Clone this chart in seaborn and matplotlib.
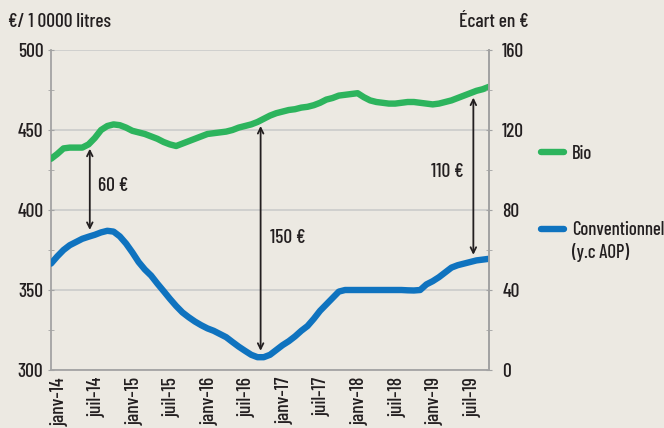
import numpy as np
import pandas as pd
import seaborn as sns
import matplotlib.pyplot as plt
import matplotlib.transforms as mtransforms
from matplotlib.lines import Line2D

### Data (prix mensuels, janv-14 -> nov-19)
mois = pd.date_range("2014-01-01", periods=71, freq="MS")

bio = [432, 435, 438.5, 439, 439, 439, 441, 445, 450, 452.5, 453.5, 453,
       451.5, 449.5, 448.5, 447.5, 446, 444.5, 442.5, 441, 440, 441.5, 443, 444.5,
       446, 447.5, 448, 448.5, 449, 450, 451.5, 452.5, 453.5, 455, 457, 459,
       460.5, 461.5, 462.5, 463, 464, 464.5, 465.5, 467, 469, 470, 471.5, 472,
       472.5, 473, 470.5, 468.5, 467.5, 467, 466.5, 466.5, 467, 467.5, 467.5, 467,
       466.5, 466, 466.5, 467.5, 468.5, 470, 471.5, 473, 474.5, 475.5, 477]

conventionnel = [366.5, 371, 375, 378, 380, 382, 383.3, 384.5, 386, 387, 386.5, 383.5,
                 379, 373.5, 367.5, 362.8, 359, 354, 349.3, 344.5, 340, 336, 333, 330.3,
                 328, 326, 324.5, 322.5, 320.5, 317.5, 314.6, 312, 309.5, 308, 308, 309.5,
                 312.5, 315.5, 318, 321, 324.5, 327.5, 332, 337, 341, 345, 349, 350,
                 350, 350, 350, 350, 350, 350, 350, 350, 350, 349.8, 349.7, 350,
                 353.5, 355.5, 358, 361, 364, 365.5, 366.5, 367.5, 368.5, 369, 369.5]

series_names = ["Bio", "Conventionnel (y.c AOP)"]
tick_labels = ["janv-14", "juil-14", "janv-15", "juil-15", "janv-16", "juil-16",
               "janv-17", "juil-17", "janv-18", "juil-18", "janv-19", "juil-19"]

# ecarts annotes : (indice du mois, texte)
ecarts = [(6.2, "60 €"), (33.5, "150 €"), (67.5, "110 €")]

df = pd.DataFrame({
    "idx": list(range(len(mois))) * 2,
    "prix": bio + conventionnel,
    "serie": [series_names[0]] * len(bio) + [series_names[1]] * len(conventionnel),
})

bg = "#ECE9E2"
green = "#2DB45D"
blue = "#0F73BF"
txt = "#231F20"
grid_c = "#CBCBCB"
spine_c = "#A3A3A3"
fs = 14

sns.set_style("white")
plt.rcParams["font.family"] = ["Barlow Condensed", "DejaVu Sans"]
plt.rcParams["font.weight"] = 500

fig = plt.figure(figsize=(6.64, 4.28), dpi=100, facecolor=bg)
ax = fig.add_axes([51 / 664, 1 - 370 / 428, 438 / 664, 320 / 428])
ax.set_facecolor(bg)

sns.lineplot(data=df, x="idx", y="prix", hue="serie", palette=[green, blue],
             linewidth=4.6, ax=ax, legend=False)
for ln in ax.get_lines():
    ln.set_solid_capstyle("round")
    ln.set_solid_joinstyle("round")
    ln.set_zorder(3)

ax.set_xlim(0, len(mois) - 1)
ax.set_ylim(300, 500)
ax.set_xlabel("")
ax.set_ylabel("")

# grille horizontale
ax.set_yticks([300, 350, 400, 450, 500])
ax.set_yticks([325, 375, 425, 475], minor=True)
ax.grid(axis="y", which="major", color=grid_c, linewidth=1.2)
ax.grid(axis="x", visible=False)
ax.spines["top"].set_visible(False)
for s in ["left", "right", "bottom"]:
    ax.spines[s].set_color(spine_c)
    ax.spines[s].set_linewidth(1.3)
ax.tick_params(axis="y", which="both", direction="inout", length=5, color=spine_c,
               labelsize=fs, labelcolor=txt, pad=3)

# axe x
ax.set_xticks(range(0, 67, 6))
ax.set_xticklabels(tick_labels, rotation=90, fontsize=fs, color=txt, va="top")
ax.tick_params(axis="x", length=0, pad=5)
offset = mtransforms.ScaledTranslation(6 / 72, 0, fig.dpi_scale_trans)
for lab in ax.get_xticklabels():
    lab.set_transform(lab.get_transform() + offset)

# axe de droite (ecart)
ax2 = ax.twinx()
ax2.set_ylim(0, 160)
ax2.set_yticks([0, 40, 80, 120, 160])
ax2.set_yticks([20, 60, 100, 140], minor=True)
for s in ["top", "left", "bottom"]:
    ax2.spines[s].set_visible(False)
ax2.spines["right"].set_color(spine_c)
ax2.spines["right"].set_linewidth(1.3)
ax2.tick_params(axis="y", which="both", direction="inout", length=5, color=spine_c,
                labelsize=fs, labelcolor=txt, pad=7)
ax2.grid(False)

# fleches d'ecart
for (i, label) in ecarts:
    top = np.interp(i, range(len(bio)), bio) - 3.5
    bot = np.interp(i, range(len(conventionnel)), conventionnel) + 4
    ax.annotate("", xy=(i, top), xytext=(i, bot),
                arrowprops=dict(arrowstyle="<->", color=txt, lw=1.3,
                                shrinkA=0, shrinkB=0, mutation_scale=10))

ax.text(7.5, 415, "60 €", fontsize=fs, color=txt, va="center", ha="left")
ax.text(35, 382.5, "150 €", fontsize=fs, color=txt, va="center", ha="left")
ax.text(66, 424, "110 €", fontsize=fs, color=txt, va="center", ha="right")

# titres d'axes
fig.text(8 / 664, 1 - 22 / 428, "€/ 1 0000 litres", fontsize=fs, color=txt,
         ha="left", va="center")
fig.text(529 / 664, 1 - 22 / 428, "Écart en €", fontsize=fs, color=txt,
         ha="right", va="center")

# legende (le libelle long passe sur deux lignes, la poignee reste sur la premiere)
leg_fs = 13.5
handles = [Line2D([0], [0], color=green, lw=4.6, solid_capstyle="round"),
           Line2D([0], [0], color=blue, lw=4.6, solid_capstyle="round")]
leg_labels = [series_names[0], series_names[1].split(" (")[0]]
leg = fig.legend(handles, leg_labels, loc="upper left",
                 bbox_to_anchor=(541 / 664, 1 - 145 / 428), frameon=False,
                 fontsize=leg_fs, handlelength=1.2, handletextpad=0.45,
                 labelspacing=3.1, borderpad=0, borderaxespad=0)
for t in leg.get_texts():
    t.set_color(txt)

fig.canvas.draw()
last = leg.get_texts()[-1]
bb = last.get_window_extent().transformed(fig.transFigure.inverted())
fig.text(bb.x0, bb.y0 - 4 / 428, "(" + series_names[1].split(" (")[1], fontsize=leg_fs,
         color=txt, ha="left", va="top")

fig.savefig("out.png", dpi=100, facecolor=bg)
